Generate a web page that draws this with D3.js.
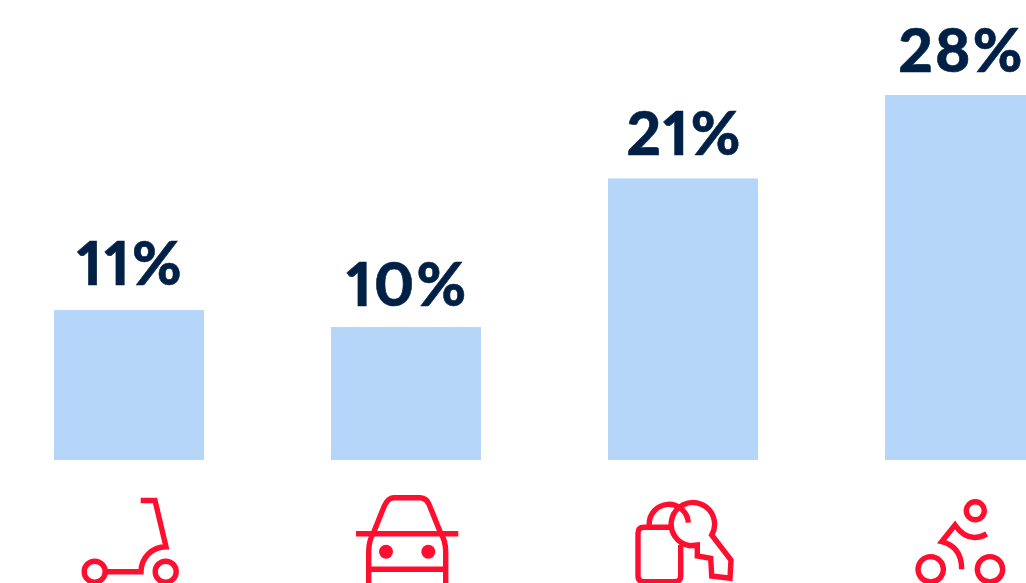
<!DOCTYPE html>
<html>
<head>
<meta charset="utf-8">
<script src="https://cdn.jsdelivr.net/npm/d3@7"></script>
<style>
html, body { margin: 0; padding: 0; background: #fff; overflow: hidden; }
.label { font-family: Lato, sans-serif; font-weight: 900; font-size: 60px; letter-spacing: 2.3px; fill: #002145; text-anchor: middle; font-feature-settings: "pnum"; stroke: #002145; stroke-width: 0.6; }
.icon * { fill: none; stroke: #ff0f2f; stroke-width: 5.4; }
.icon .solid { fill: #ff0f2f; stroke: none; }
</style>
</head>
<body>
<svg id="chart" width="1026" height="583"></svg>
<script>
const categories = ["scooter", "car", "lock", "bike"];
const labels = ["11%", "10%", "21%", "28%"];
// bar heights, they don't quite follow the printed numbers
const values = [11.5, 10.2, 21.6, 28];

// icons, local coords: x from bar centre, y from baseline
const iconPaths = {
    scooter: ["M11.7,40.5H26L37,86.7A25,25 0 0 0 12,111.7H-22"],
    car: ["M-32.7,73.3L-22,46.7Q-18,37.7 -12.7,37.7H14Q21,37.7 24,46.7L34.7,73.3",
          "M-50,73.7H52.3",
          "M-32.7,73Q-37.3,81 -37.3,91.7V123",
          "M34.7,73Q39.7,81 39.7,91.7V123",
          "M-37.3,109.3H39.7"],
    lock: ["M-13,67.3H-39Q-45,67.3 -45,73.3V115.7Q-45,121.7 -39,121.7H-8.3Q-2.3,121.7 -2.3,115.7V85",
           "M-33.7,65A19.3,19.3 0 0 1 5.3,62.7",
           "M28.7,75A21.7,21.7 0 1 0 7,85.7L14.3,85V96L27.7,98.3L28.7,116L47,118.3L48,100Z"],
    bike: ["M26.7,74Q8,84 -5,65L-18.3,81.7Q1.7,86.7 1.7,109.3"]
};
const iconRings = {
    scooter: [[-34.3, 111.7, 10.5], [36.7, 111.7, 10.5]],
    car: [],
    lock: [],
    bike: [[15.3, 50.7, 9], [-29.3, 109.3, 12.7], [30, 109.3, 12.7]]
};
const iconDots = {
    scooter: [],
    car: [[-20, 91.7, 7], [22.3, 91.7, 7]],
    lock: [],
    bike: []
};

const svg = d3.select("#chart");
const baseline = 460;
// gap between bar top and label baseline
const labelGap = [25, 21, 23, 23];
const labelShift = 1.5;

const xScale = d3.scaleBand().domain(categories).range([54, 1035]).paddingInner(127 / 277).paddingOuter(0);
const yScale = d3.scaleLinear().domain([0, 28]).range([baseline, 95]);

svg.selectAll("rect.bar")
    .data(categories)
    .join("rect")
    .attr("class", "bar")
    .attr("x", d => xScale(d))
    .attr("y", (d, i) => yScale(values[i]))
    .attr("width", xScale.bandwidth())
    .attr("height", (d, i) => baseline - yScale(values[i]))
    .attr("fill", "#b5d6f9");

svg.selectAll("text.label")
    .data(categories)
    .join("text")
    .attr("class", "label")
    .attr("x", d => xScale(d) + xScale.bandwidth() / 2 + labelShift)
    .attr("y", (d, i) => yScale(values[i]) - labelGap[i])
    .text((d, i) => labels[i]);

const icons = svg.selectAll("g.icon")
    .data(categories)
    .join("g")
    .attr("class", "icon")
    .attr("transform", d => `translate(${xScale(d) + xScale.bandwidth() / 2},${baseline})`);

icons.selectAll("path")
    .data(d => iconPaths[d])
    .join("path")
    .attr("d", d => d);

icons.selectAll("circle.ring")
    .data(d => iconRings[d])
    .join("circle")
    .attr("class", "ring")
    .attr("cx", d => d[0])
    .attr("cy", d => d[1])
    .attr("r", d => d[2]);

icons.selectAll("circle.solid")
    .data(d => iconDots[d])
    .join("circle")
    .attr("class", "solid")
    .attr("cx", d => d[0])
    .attr("cy", d => d[1])
    .attr("r", d => d[2]);
</script>
</body>
</html>
